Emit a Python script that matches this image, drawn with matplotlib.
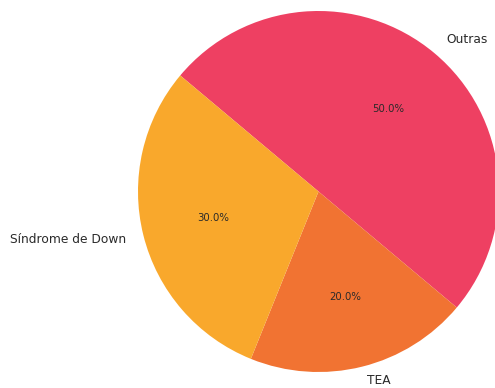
import matplotlib
matplotlib.use("Agg")
import matplotlib.pyplot as plt

labels = ["Outras", "TEA", "Síndrome de Down"]
values = [50, 20, 30]
colors = ["#EE4062", "#F17332", "#F9A82C"]

W, H, DPI = 495, 388, 100
fig = plt.figure(figsize=(W / DPI, H / DPI), dpi=DPI)

cx, cy, r = 318.5, 196.5, 180.5  # pie centre (from bottom) and radius, in pixels
ax = fig.add_axes([(cx - r) / W, (cy - r) / H, 2 * r / W, 2 * r / H])

wedges, texts, autotexts = ax.pie(
    values,
    labels=labels,
    colors=colors,
    autopct="%1.1f%%",
    startangle=140,
    counterclock=False,
    radius=1.0,
    labeldistance=1.1,
    pctdistance=0.6,
    textprops={"color": "#2a2a2a"},
)
for t in texts:
    t.set_fontsize(8.8)
for t in autotexts:
    t.set_fontsize(7.3)

# keep the bottom label inside the canvas
tx, ty = texts[1].get_position()
texts[1].set_position((tx, ty + 0.02))

ax.set_xlim(-1, 1)
ax.set_ylim(-1, 1)
ax.set_aspect("auto")
ax.axis("off")

fig.savefig("out.png", dpi=DPI)
